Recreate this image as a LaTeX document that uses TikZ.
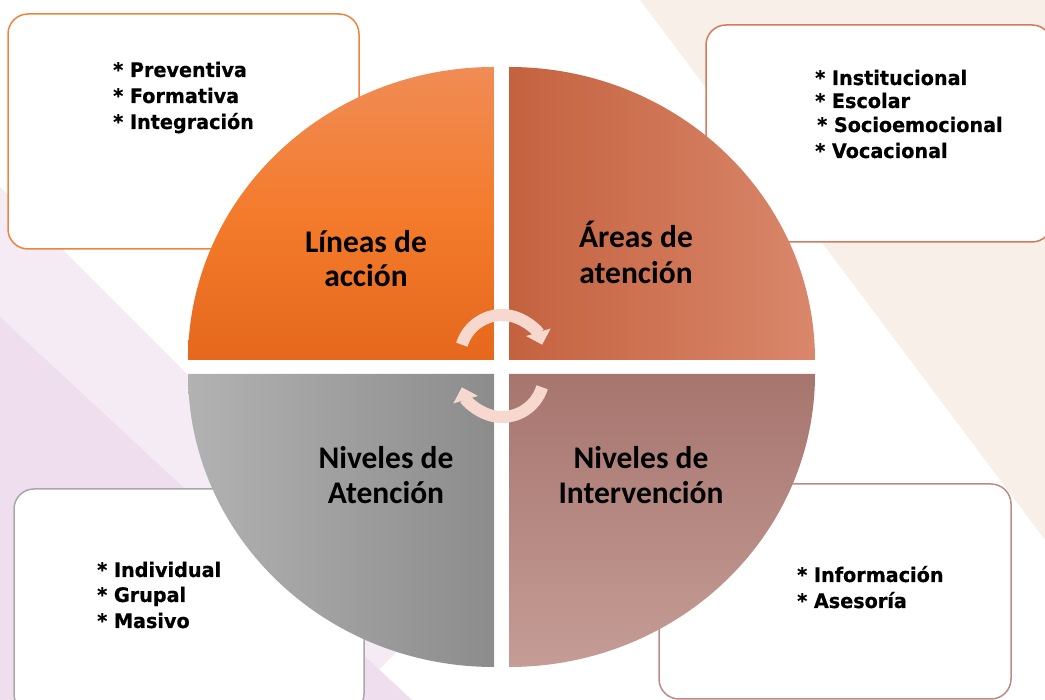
\documentclass[tikz,border=0pt]{standalone}
\usepackage{fontspec}
\usetikzlibrary{arrows.meta}
\newfontfamily\labelfont{Carlito}
\newfontfamily\boxfont{DejaVu Sans}[FakeStretch=0.96, FakeBold=0.5]
\definecolor{bgpink}{HTML}{F5EBF4}
\definecolor{bglav}{HTML}{EFDFEE}
\definecolor{bgbeige}{HTML}{F9EFE9}
\definecolor{tlTop}{HTML}{F08C55}
\definecolor{tlMid}{HTML}{F47B2C}
\definecolor{tlBot}{HTML}{E5681C}
\definecolor{trL}{HTML}{C4623F}
\definecolor{trR}{HTML}{D9876B}
\definecolor{blL}{HTML}{B2B2B2}
\definecolor{blR}{HTML}{8C8C8C}
\definecolor{brT}{HTML}{A6756E}
\definecolor{brB}{HTML}{C59D96}
\definecolor{edgeTL}{HTML}{EE8440}
\definecolor{edgeTR}{HTML}{D27B5D}
\definecolor{edgeBL}{HTML}{A8A8A8}
\definecolor{edgeBR}{HTML}{C08A82}
\definecolor{arrowcol}{HTML}{F6D8CE}
\tikzset{
  infobox/.style={draw=#1, fill=white, line width=1.5pt, rounded corners=20pt, inner sep=0pt},
  itemtext/.style={font=\boxfont\bfseries\fontsize{20}{24}\selectfont, anchor=base west, inner sep=0pt},
  quadlabel/.style={font=\labelfont\bfseries\fontsize{31.5}{35}\selectfont, anchor=base, inner sep=0pt},
  circarrow/.style={draw=arrowcol, line width=12pt, -{Triangle[length=13pt, width=25pt]}}
}
\begin{document}
\begin{tikzpicture}[x=1pt,y=1pt]
\useasboundingbox (0,0) rectangle (1045,700);
% background
\fill[bgpink] (0,513) -- (431,82) -- (349,0) -- (0,0) -- cycle;
\fill[bglav] (0,383) -- (412,0) -- (0,0) -- cycle;
\fill[bgbeige] (640,700) -- (1045,700) -- (1045,160) -- cycle;
% boxes
\node[infobox=edgeTL, minimum width=351pt, minimum height=235pt] (boxTL) at (183.5,568.5) {};
\node[infobox=edgeTR, minimum width=346pt, minimum height=217pt] (boxTR) at (879,566.5) {};
\node[infobox=edgeBL, minimum width=350pt, minimum height=225pt] (boxBL) at (189,98.5) {};
\node[infobox=edgeBR, minimum width=352pt, minimum height=215pt] (boxBR) at (835,108.5) {};
% box texts
\node[itemtext] (tl1) at (113,623) {* Preventiva};
\node[itemtext] (tl2) at (113,597) {* Formativa};
\node[itemtext] (tl3) at (113,571) {* Integración};
\node[itemtext] (tr1) at (815,615) {* Institucional};
\node[itemtext] (tr2) at (815,592) {* Escolar};
\node[itemtext] (tr3) at (817,568) {* Socioemocional};
\node[itemtext] (tr4) at (815,542) {* Vocacional};
\node[itemtext] (bl1) at (97,123) {* Individual};
\node[itemtext] (bl2) at (97,98) {* Grupal};
\node[itemtext] (bl3) at (97,72) {* Masivo};
\node[itemtext] (br1) at (797,118) {* Información};
\node[itemtext] (br2) at (797,92) {* Asesoría};
% quadrants
\shade[top color=tlTop, bottom color=tlBot, middle color=tlMid]
  (494,340) -- (188,340) arc[start angle=180, end angle=90, x radius=306, y radius=293] -- cycle;
\shade[left color=trL, right color=trR]
  (509,340) -- (509,633) arc[start angle=90, end angle=0, x radius=306, y radius=293] -- cycle;
\shade[left color=blL, right color=blR]
  (494,326) -- (188,326) arc[start angle=180, end angle=270, x radius=306, y radius=293] -- cycle;
\shade[top color=brT, bottom color=brB]
  (509,326) -- (815,326) arc[start angle=0, end angle=-90, x radius=306, y radius=293] -- cycle;
% labels
\node[quadlabel] (q1a) at (366,447) {Líneas de};
\node[quadlabel] (q1b) at (366,413) {acción};
\node[quadlabel] (q2a) at (636,452) {Áreas de};
\node[quadlabel] (q2b) at (636,416) {atención};
\node[quadlabel] (q3a) at (386,231) {Niveles de};
\node[quadlabel] (q3b) at (386,196) {Atención};
\node[quadlabel] (q4a) at (641,231) {Niveles de};
\node[quadlabel] (q4b) at (641,196) {Intervención};
% circular arrows
\coordinate (arcA) at (461.84,355.28);
\coordinate (arcB) at (542.16,312.72);
\draw[circarrow] (arcA) arc[start angle=163, end angle=17, radius=42];
\draw[circarrow] (arcB) arc[start angle=-17, end angle=-163, radius=42];
\end{tikzpicture}
\end{document}
